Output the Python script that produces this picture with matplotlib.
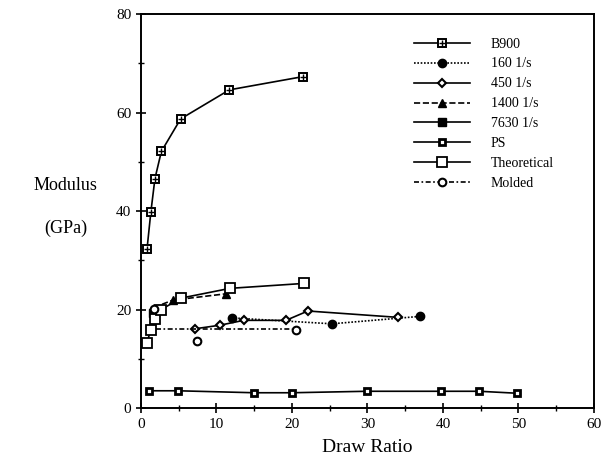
import matplotlib
matplotlib.use('Agg')
import matplotlib.pyplot as plt
from matplotlib.legend_handler import HandlerTuple

#data (draw ratio, modulus in GPa)
b900_x = [0.8, 1.3, 1.85, 2.7, 5.25, 11.7, 21.5]
b900_y = [32.3, 39.7, 46.6, 52.1, 58.7, 64.6, 67.3]

s160_x = [12.0, 25.3, 36.9]
s160_y = [18.3, 17.1, 18.6]

s450_x = [7.2, 10.4, 13.6, 19.2, 22.1, 34.1]
s450_y = [16.1, 16.8, 17.8, 17.8, 19.7, 18.4]

s1400_x = [1.7, 4.2, 11.3]
s1400_y = [20.4, 21.9, 23.2]

s7630_x = [1.6]
s7630_y = [19.2]

ps_x = [1.0, 4.9, 15.0, 20.0, 29.9, 39.8, 44.8, 49.8]
ps_y = [3.5, 3.5, 3.1, 3.1, 3.4, 3.4, 3.4, 3.0]

theo_x = [0.8, 1.3, 1.8, 2.7, 5.25, 11.8, 21.6]
theo_y = [13.3, 15.9, 18.0, 20.0, 22.3, 24.3, 25.3]

molded_x = [1.7, 7.4, 20.5]
molded_y = [20.2, 13.7, 15.8]
molded_line_x = [2.0, 20.0]
molded_line_y = [16.0, 16.0]

plt.rcParams['font.family'] = ['Liberation Serif', 'DejaVu Serif']

fig = plt.figure(figsize=(6.13, 4.67), dpi=100)
ax = fig.add_axes([0.230, 0.1263, 0.739, 0.8437])

lw = 1.2
k = 'black'
dashdot = (0, (3, 1.5, 1, 1.5))

#B900 - square with a cross inside
b1, = ax.plot(b900_x, b900_y, '-', color=k, lw=lw, marker='s', ms=6,
              mfc='white', mec=k, mew=1.4)
b2, = ax.plot(b900_x, b900_y, ' ', marker='+', ms=5, mec=k, mew=1.0)

h160, = ax.plot(s160_x, s160_y, linestyle=(0, (1, 1)), color=k, lw=lw,
                marker='o', ms=6, mfc=k, mec=k)
h450, = ax.plot(s450_x, s450_y, '-', color=k, lw=lw, marker='D', ms=4.5,
                mfc='white', mec=k, mew=1.5)
h1400, = ax.plot(s1400_x, s1400_y, '--', color=k, lw=lw, marker='^', ms=6,
                 mfc=k, mec=k)
h7630, = ax.plot(s7630_x, s7630_y, '-', color=k, lw=lw, marker='s', ms=5.5,
                 mfc=k, mec=k)
hps, = ax.plot(ps_x, ps_y, '-', color=k, lw=lw, marker='s', ms=5,
               mfc='white', mec=k, mew=2)
htheo, = ax.plot(theo_x, theo_y, '-', color=k, lw=lw, marker='s', ms=7,
                 mfc='white', mec=k, mew=1.3)
ax.plot(molded_line_x, molded_line_y, linestyle=dashdot, color=k, lw=lw)
hmold, = ax.plot(molded_x, molded_y, ' ', marker='o', ms=5.5, mfc='white',
                 mec=k, mew=1.5)
hmold_line, = ax.plot([], [], linestyle=dashdot, color=k, lw=lw)

ax.set_xlim(0, 60)
ax.set_ylim(0, 80)
ax.set_xticks(range(0, 61, 10))
ax.set_xticks(range(0, 61, 5), minor=True)
ax.set_yticks(range(0, 81, 20))
ax.set_yticks(range(0, 81, 10), minor=True)
ax.tick_params(which='major', direction='inout', length=7, width=1.2, labelsize=11)
ax.tick_params(which='minor', direction='inout', length=5, width=1.0)
for s in ax.spines.values():
    s.set_linewidth(1.4)

ax.set_xlabel('Draw Ratio', fontsize=14, labelpad=6)
fig.text(0.107, 0.603, 'Modulus', fontsize=13, ha='center', va='center')
fig.text(0.107, 0.512, '(GPa)', fontsize=13, ha='center', va='center')

handles = [(b1, b2), h160, h450, h1400, h7630, hps, htheo, (hmold_line, hmold)]
labels = ['B900', '160 1/s', '450 1/s', '1400 1/s', '7630 1/s', 'PS',
          'Theoretical', 'Molded']
ax.legend(handles, labels, loc='upper left', bbox_to_anchor=(0.574, 0.972),
          frameon=False, fontsize=10, handlelength=4.1, handletextpad=1.45,
          labelspacing=0.5, handler_map={tuple: HandlerTuple(ndivide=1, pad=0)})

plt.savefig('out.png', dpi=100)
